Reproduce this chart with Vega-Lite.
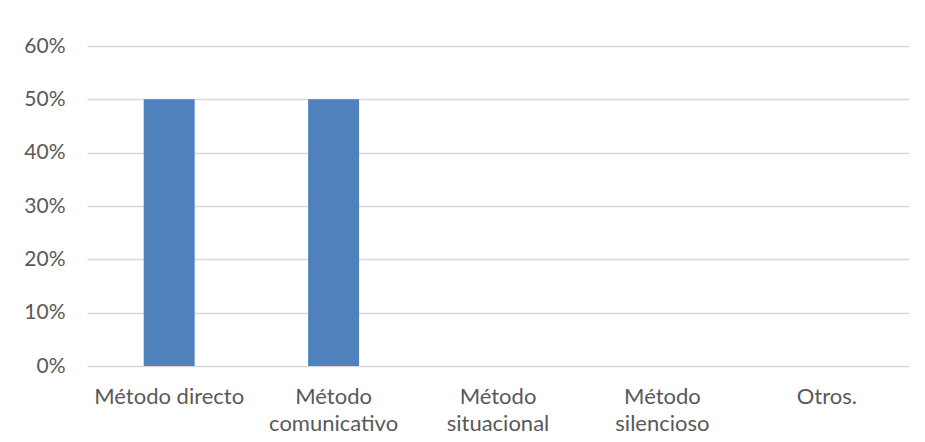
{
  "$schema": "https://vega.github.io/schema/vega-lite/v6.json",
  "autosize": {"type": "none"},
  "padding": {"left": 87, "top": 46, "right": 16, "bottom": 76},
  "width": 822,
  "height": 320,
  "background": "white",
  "data": {"values": [
    {"metodo": "Método directo", "valor": 0.5},
    {"metodo": "Método comunicativo", "valor": 0.5},
    {"metodo": "Método situacional", "valor": 0},
    {"metodo": "Método silencioso", "valor": 0},
    {"metodo": "Otros.", "valor": 0}
  ]},
  "mark": {"type": "bar", "color": "#4F81BD"},
  "encoding": {
    "x": {
      "field": "metodo", "type": "nominal", "sort": null,
      "scale": {"paddingInner": 0.69, "paddingOuter": 0.345},
      "axis": {
        "title": null, "labelAngle": 0, "ticks": false, "domain": false,
        "labelFont": "Lato", "labelFontSize": 22, "labelColor": "#595959",
        "labelPadding": 20, "labelLineHeight": 27,
        "labelExpr": "datum.label == 'Método directo' || datum.label == 'Otros.' ? datum.label : split(datum.label, ' ')"
      }
    },
    "y": {
      "field": "valor", "type": "quantitative",
      "scale": {"domain": [0, 0.6], "nice": false},
      "axis": {
        "title": null, "format": ".0%", "values": [0, 0.1, 0.2, 0.3, 0.4, 0.5, 0.6],
        "ticks": false, "domain": false,
        "gridColor": "#d9d9d9", "gridWidth": 1.3,
        "labelFont": "Lato", "labelFontSize": 21, "labelColor": "#595959",
        "labelPadding": 22
      }
    }
  },
  "config": {"view": {"stroke": null}}
}
